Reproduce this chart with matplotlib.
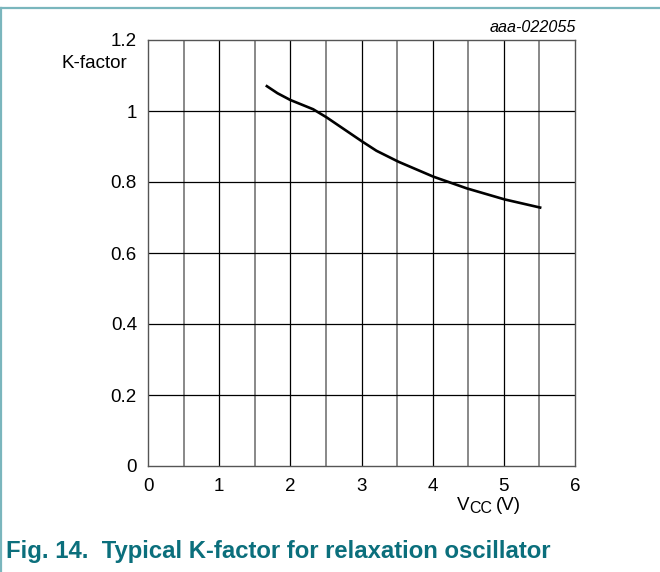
import matplotlib
matplotlib.use("Agg")
import matplotlib.pyplot as plt
from matplotlib.lines import Line2D

plt.rcParams['font.family'] = ['Liberation Sans', 'DejaVu Sans']

# K-factor vs Vcc
vcc = [1.67, 1.82, 2.0, 2.32, 2.51, 3.01, 3.21, 3.52, 4.01, 4.48, 5.01, 5.51]
kfactor = [1.070, 1.050, 1.031, 1.005, 0.982, 0.914, 0.888, 0.857, 0.815, 0.782, 0.751, 0.728]

x_ticks = [0, 1, 2, 3, 4, 5, 6]
x_half = [0.5, 1.5, 2.5, 3.5, 4.5, 5.5]
y_ticks = [0, 0.2, 0.4, 0.6, 0.8, 1.0, 1.2]
y_labels = ['0', '0.2', '0.4', '0.6', '0.8', '1', '1.2']

fig = plt.figure(figsize=(6.6, 5.72), dpi=100)
ax = fig.add_axes([148/660, 1 - 466/572, 427/660, 426/572])

ax.set_xlim(0, 6)
ax.set_ylim(0, 1.2)

# grid: black on the integer/labelled lines, grey on the half volts
for xv in x_half:
    ax.axvline(xv, color='#888888', lw=1.4, zorder=1)
for xv in x_ticks[1:-1]:
    ax.axvline(xv, color='black', lw=0.9, zorder=1)
for yv in y_ticks[1:-1]:
    ax.axhline(yv, color='black', lw=0.9, zorder=1)

ax.plot(vcc, kfactor, color='black', lw=1.9, zorder=3)

for s in ax.spines.values():
    s.set_color('#555555')
    s.set_linewidth(1.0)

ax.set_xticks(x_ticks)
ax.set_xticklabels([str(v) for v in x_ticks])
ax.set_yticks(y_ticks)
ax.set_yticklabels(y_labels)
ax.tick_params(length=0, labelsize=13.5)
ax.tick_params(axis='x', pad=8.5)
ax.tick_params(axis='y', pad=8)

fig.text(127/660, 1 - 63/572, 'K-factor', ha='right', va='center', fontsize=13.5)
fig.text(576/660, 1 - 28/572, 'aaa-022055', ha='right', va='center',
         fontsize=11.6, style='italic')

# x axis title, V with subscript CC
fig.text(457/660, 1 - 510/572, 'V', ha='left', va='baseline', fontsize=13.5)
fig.text(469/660, 1 - 513/572, 'CC', ha='left', va='baseline', fontsize=11.5)
fig.text(496/660, 1 - 510/572, '(V)', ha='left', va='baseline', fontsize=13.5)

# caption + frame
fig.text(6/660, 1 - 558/572, 'Fig. 14.  Typical K-factor for relaxation oscillator',
         ha='left', va='baseline', fontsize=17.2, fontweight='bold', color='#0b6f7c')
fig.add_artist(Line2D([0, 1], [1 - 8/572, 1 - 8/572], color='#7ab6bd', lw=1.6,
                      transform=fig.transFigure))
fig.add_artist(Line2D([1.2/660, 1.2/660], [0, 1 - 8/572], color='#7ab6bd', lw=1.6,
                      transform=fig.transFigure))

fig.savefig('out.png', dpi=100)
